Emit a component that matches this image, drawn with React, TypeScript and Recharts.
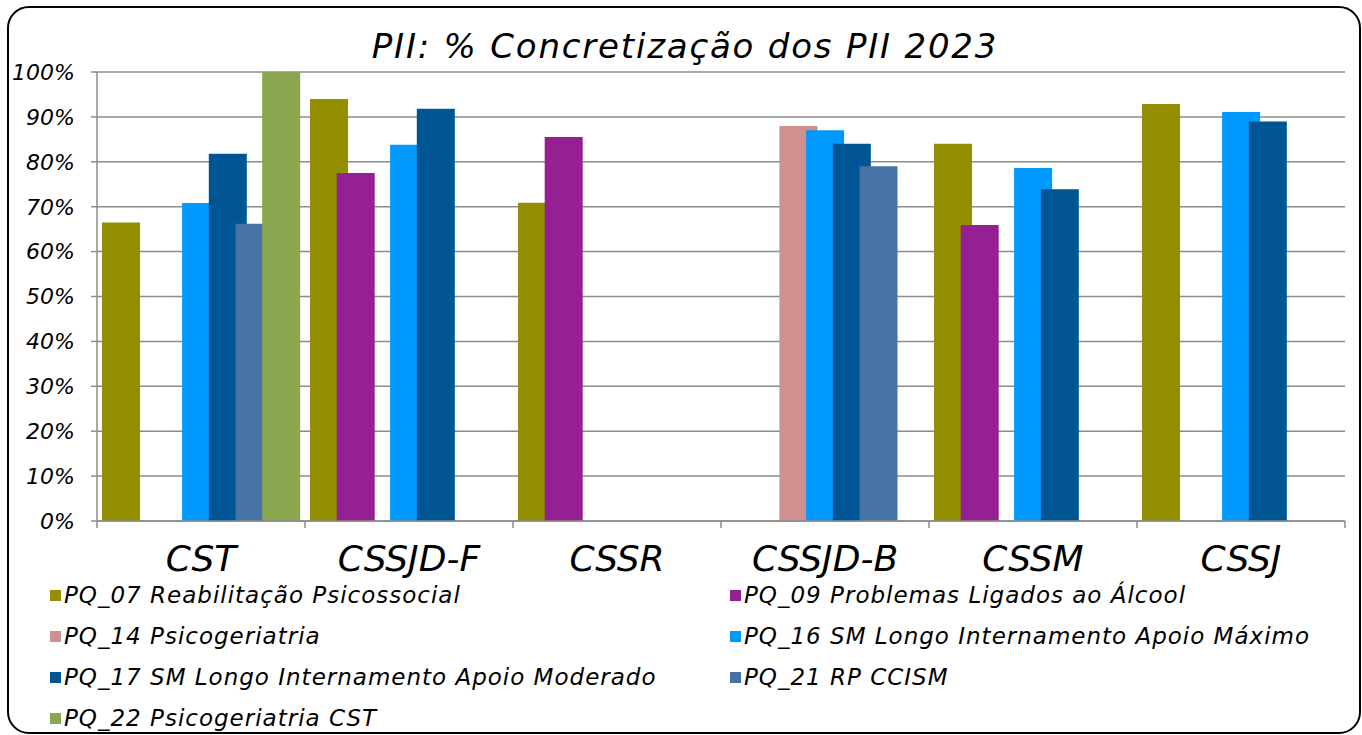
import React from 'react';
import { BarChart, Bar, XAxis, YAxis, CartesianGrid } from 'recharts';

// categorias (unidades)
const categories = ['CST', 'CSSJD-F', 'CSSR', 'CSSJD-B', 'CSSM', 'CSSJ'];

// % de concretização por programa
const pq07 = [66.5, 94.0, 70.9, null, 84.0, 92.9];
const pq09 = [null, 77.5, 85.5, null, 65.9, null];
const pq14 = [null, null, null, 88.0, null, null];
const pq16 = [70.8, 83.8, null, 87.0, 78.6, 91.1];
const pq17 = [81.8, 91.8, null, 84.0, 73.9, 89.0];
const pq21 = [66.2, null, null, 79.0, null, null];
const pq22 = [100, null, null, null, null, null];

const seriesKeys = ['pq07', 'pq09', 'pq14', 'pq16', 'pq17', 'pq21', 'pq22'];
const seriesNames = [
  'PQ_07 Reabilitação Psicossocial',
  'PQ_09 Problemas Ligados ao Álcool',
  'PQ_14 Psicogeriatria',
  'PQ_16 SM Longo Internamento Apoio Máximo',
  'PQ_17 SM Longo Internamento Apoio Moderado',
  'PQ_21 RP CCISM',
  'PQ_22 Psicogeriatria CST',
];
const seriesColors = ['#948f00', '#952092', '#d09090', '#0099ff', '#005595', '#4672a6', '#8aa64f'];

const yTicks = [0, 10, 20, 30, 40, 50, 60, 70, 80, 90, 100];

const seriesValues = [pq07, pq09, pq14, pq16, pq17, pq21, pq22];

const chartData = categories.map((cat, i) => {
  const row: { [key: string]: string | number | null } = { name: cat };
  seriesKeys.forEach((k, s) => {
    row[k] = seriesValues[s][i];
  });
  return row;
});

const FONT = '"DejaVu Sans", sans-serif';
const GRID = '#8c8c8c';
const BAND = 208;

// tick do eixo X com marcas nos limites das categorias
const CategoryTick = (props: any) => {
  const { x, y, payload, index } = props;
  const half = BAND / 2;
  return (
    <g>
      <line x1={x - half} x2={x - half} y1={y} y2={y + 7} stroke={GRID} strokeWidth={1.5} />
      {index === categories.length - 1 && (
        <line x1={x + half} x2={x + half} y1={y} y2={y + 7} stroke={GRID} strokeWidth={1.5} />
      )}
      <text
        x={x}
        y={y + 50}
        textAnchor="middle"
        fontFamily={FONT}
        fontStyle="italic"
        fontSize={36}
        fill="#000"
      >
        {payload.value}
      </text>
    </g>
  );
};

const App: React.FC = () => {
  return (
    <div style={{ position: 'fixed', left: 0, top: 0, width: 1362, height: 735, background: '#fff', overflow: 'hidden' }}>
      <div
        style={{
          position: 'absolute',
          left: 7,
          top: 6,
          width: 1350,
          height: 724,
          border: '2px solid #000',
          borderRadius: 22,
        }}
      />
      <div
        style={{
          position: 'absolute',
          left: 0,
          top: 22,
          width: 1370,
          textAlign: 'center',
          fontFamily: FONT,
          fontStyle: 'italic',
          fontSize: 34,
          letterSpacing: 1.8,
          lineHeight: '48px',
          color: '#000',
        }}
      >
        PII: % Concretização dos PII 2023
      </div>
      <div style={{ position: 'absolute', left: 0, top: 0 }}>
        <BarChart
          width={1362}
          height={735}
          data={chartData}
          margin={{ top: 72, right: 17, left: 0, bottom: 154 }}
          barSize={38}
          barGap={-11.3}
        >
          <CartesianGrid vertical={false} stroke={GRID} strokeWidth={1.5} />
          <XAxis
            dataKey="name"
            height={60}
            axisLine={{ stroke: GRID, strokeWidth: 1.5 }}
            tickLine={false}
            tickSize={0}
            tickMargin={0}
            interval={0}
            tick={<CategoryTick />}
          />
          <YAxis
            width={97}
            domain={[0, 100]}
            ticks={yTicks}
            tickFormatter={(v: number) => `${v}%`}
            axisLine={{ stroke: GRID, strokeWidth: 1.5 }}
            tickLine={{ stroke: GRID, strokeWidth: 1.5 }}
            tickSize={6}
            tickMargin={16}
            tick={{ fontFamily: FONT, fontStyle: 'italic', fontSize: 22, fill: '#000' }}
          />
          {seriesKeys.map((k, s) => (
            <Bar key={k} dataKey={k} name={seriesNames[s]} fill={seriesColors[s]} isAnimationActive={false} />
          ))}
        </BarChart>
      </div>
      {/* legenda em duas colunas */}
      <div style={{ position: 'absolute', left: 50, top: 575, width: 1300 }}>
        {seriesNames.map((n, s) => (
          <div
            key={n}
            style={{
              position: 'absolute',
              left: s % 2 === 0 ? 0 : 680,
              top: Math.floor(s / 2) * 41,
              display: 'flex',
              alignItems: 'center',
              fontFamily: FONT,
              fontStyle: 'italic',
              fontSize: 23,
              letterSpacing: 1,
              lineHeight: '40px',
              whiteSpace: 'nowrap',
              color: '#000',
            }}
          >
            <span style={{ display: 'inline-block', width: 11, height: 11, background: seriesColors[s], marginRight: 3 }} />
            {n}
          </div>
        ))}
      </div>
    </div>
  );
};

export default App;
